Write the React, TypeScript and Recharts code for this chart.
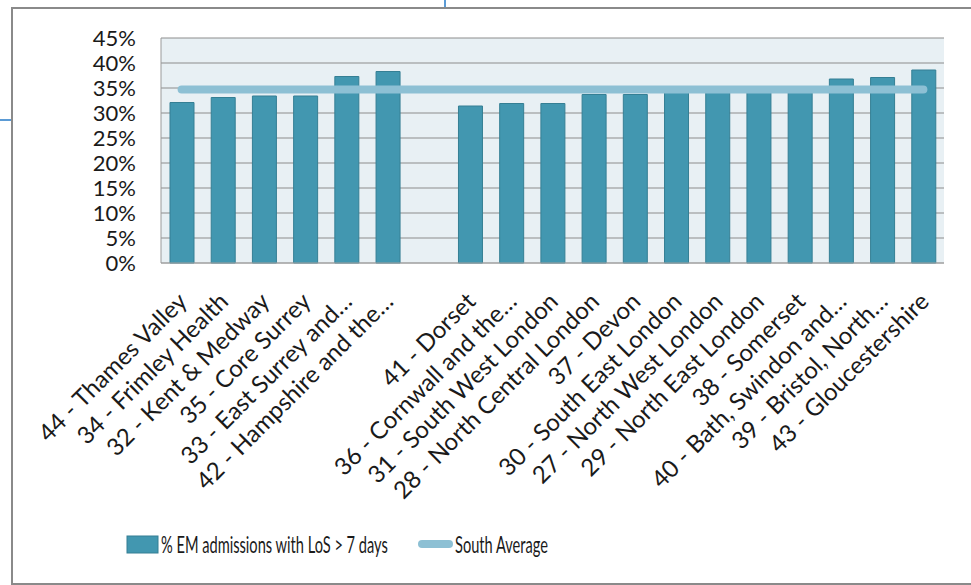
import { useLayoutEffect, useRef, useState } from 'react'
import { ComposedChart, Bar, Line, XAxis, YAxis, CartesianGrid, Legend } from 'recharts'

const categories = [
  '44 - Thames Valley', '34 - Frimley Health', '32 - Kent & Medway', '35 - Core Surrey',
  '33 - East Surrey and…', '42 - Hampshire and the…', '',
  '41 - Dorset', '36 - Cornwall and the…', '31 - South West London', '28 - North Central London',
  '37 - Devon', '30 - South East London', '27 - North West London', '29 - North East London',
  '38 - Somerset', '40 - Bath, Swindon and…', '39 - Bristol, North…', '43 - Gloucestershire',
]
const emAdmissions = [
  32.1, 33.1, 33.4, 33.4, 37.3, 38.3, null,
  31.4, 31.9, 31.9, 33.7, 33.7, 34.1, 34.3, 34.4, 34.6, 36.8, 37.1, 38.6,
]
const southAverage = [
  34.7, 34.7, 34.7, 34.7, 34.7, 34.7, 34.7, 34.7, 34.7, 34.7,
  34.7, 34.7, 34.7, 34.7, 34.7, 34.7, 34.7, 34.7, 34.7,
]
const yTicks = [0, 5, 10, 15, 20, 25, 30, 35, 40, 45]

const data = categories.map((name, i) => ({ name, em: emAdmissions[i], avg: southAverage[i] }))

const FONT = 'Lato, "Open Sans", sans-serif'
const BAR = '#4297b0'
const AVG = '#8dc0d4'

function CategoryTick({ x, y, payload }: any) {
  const ax = x + 7
  const ay = y + 40
  return (
    <text
      x={ax} y={ay} textAnchor="end" fontFamily={FONT} fontSize={24} fill="#1a1a1a"
      transform={`rotate(-45 ${ax} ${ay})`}
    >
      {payload.value}
    </text>
  )
}

// legend text in the source is squeezed sideways, so scale it to a target width
function SqueezedText({ x, y, width, children }: any) {
  const ref = useRef<SVGTextElement>(null)
  const [sx, setSx] = useState(1)
  useLayoutEffect(() => {
    const w = ref.current ? ref.current.getComputedTextLength() : 0
    if (w > 0) setSx(width / w)
  }, [width, children])
  return (
    <text ref={ref} transform={`translate(${x} ${y}) scale(${sx} 1)`} fontFamily={FONT} fontSize={24} fill="#1a1a1a">
      {children}
    </text>
  )
}

function LegendBox({ payload }: any) {
  const [bar, line] = payload || []
  return (
    <svg width={971} height={34} style={{ display: 'block', overflow: 'visible' }}>
      {bar && <rect x={127} y={13} width={31} height={17} fill={BAR} stroke="#357f94" />}
      {bar && <SqueezedText x={161} y={30} width={227}>{bar.value}</SqueezedText>}
      {line && <line x1={422} x2={449} y1={21} y2={21} stroke={AVG} strokeWidth={8} strokeLinecap="round" />}
      {line && <SqueezedText x={455} y={30} width={93}>{line.value}</SqueezedText>}
    </svg>
  )
}

export default function App() {
  return (
    <div style={{ position: 'fixed', left: 0, top: 0, width: 971, height: 585, overflow: 'hidden', background: '#fff' }}>
      <div style={{ position: 'absolute', left: 0, top: 119, width: 12, height: 2, background: '#5b9bd5' }} />
      <div style={{ position: 'absolute', left: 444, top: 0, width: 2, height: 8, background: '#5b9bd5' }} />
      <div style={{ position: 'absolute', left: 11, top: 7, width: 990, height: 574, border: '2px solid #8a8a8a' }} />
      <div style={{ position: 'absolute', left: 0, top: 0 }}>
        <ComposedChart width={971} height={585} data={data} margin={{ top: 38, right: 27, left: 0, bottom: 28 }}>
          <CartesianGrid vertical={false} fill="#e8f0f4" stroke="#8c8c8c" />
          <XAxis
            dataKey="name" interval={0} height={260} tickLine={false} tickSize={0} tickMargin={0}
            axisLine={{ stroke: '#a8a8a8' }} tick={<CategoryTick />}
          />
          <YAxis
            width={161} domain={[0, 45]} ticks={yTicks} interval={0} tickFormatter={(v: number) => `${v}%`}
            tickLine={false} tickSize={0} tickMargin={25} axisLine={{ stroke: '#9a9a9a' }}
            tick={{ fontFamily: FONT, fontSize: 22, fill: '#1a1a1a' }}
          />
          <Legend verticalAlign="bottom" align="left" content={<LegendBox />} />
          <Bar dataKey="em" name="% EM admissions with LoS > 7 days" fill={BAR} stroke="#357f94" barSize={24} isAnimationActive={false} />
          <Line
            dataKey="avg" name="South Average" type="linear" stroke={AVG} strokeWidth={8} strokeLinecap="round"
            dot={false} activeDot={false} isAnimationActive={false}
          />
        </ComposedChart>
      </div>
    </div>
  )
}
